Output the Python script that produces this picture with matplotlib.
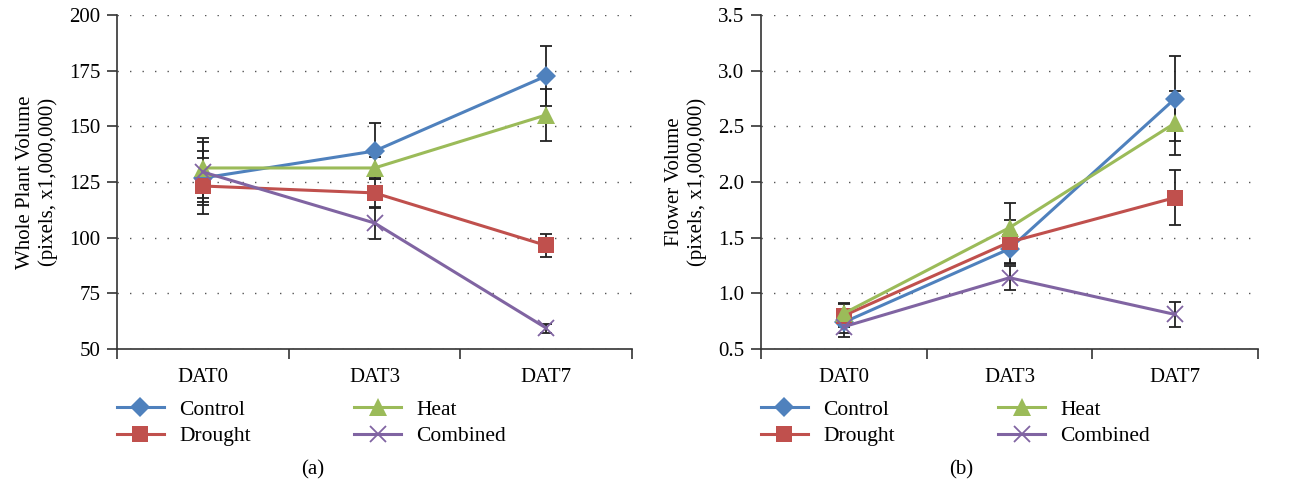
import matplotlib
matplotlib.use("Agg")
import matplotlib.pyplot as plt
import numpy as np

plt.rcParams['font.family'] = ['Liberation Serif', 'DejaVu Serif']

categories = ["DAT0", "DAT3", "DAT7"]
series = ["Control", "Drought", "Heat", "Combined"]

# Panel (a): Whole plant volume
a_control = [126.8, 138.9, 172.6]
a_drought = [123.2, 120.1, 96.5]
a_heat = [131.3, 131.3, 155.1]
a_combined = [129.5, 106.6, 59.4]
a_control_err = [12.0, 12.6, 13.6]
a_drought_err = [12.6, 6.6, 5.2]
a_heat_err = [13.5, 5.0, 11.5]
a_combined_err = [13.3, 7.0, 2.0]

# Panel (b): Flower volume
b_control = [0.74, 1.40, 2.75]
b_drought = [0.80, 1.46, 1.86]
b_heat = [0.82, 1.59, 2.53]
b_combined = [0.70, 1.14, 0.81]
b_control_err = [0.10, 0.13, 0.38]
b_drought_err = [0.10, 0.20, 0.25]
b_heat_err = [0.09, 0.22, 0.29]
b_combined_err = [0.09, 0.11, 0.11]

colors = {"Control": "#4F81BD", "Drought": "#C0504D", "Heat": "#9BBB59", "Combined": "#8064A2"}
markers = {"Control": "D", "Drought": "s", "Heat": "^", "Combined": "x"}
msizes = {"Control": 10.5, "Drought": 12, "Heat": 12.5, "Combined": 12}

fig = plt.figure(figsize=(12.9, 4.87), dpi=100)
W, H = 1290, 487
axa = fig.add_axes([117 / W, 1 - 349 / H, (632 - 117) / W, (349 - 15) / H])
axb = fig.add_axes([761 / W, 1 - 349 / H, (1258 - 761) / W, (349 - 15) / H])

def draw(ax, data, errs, ylim, yticks, yfmt, ylabel):
    x = np.arange(len(categories))
    for name in series:
        ax.errorbar(x, data[name], yerr=errs[name], fmt='none', ecolor='#222222',
                    elinewidth=1.3, capsize=4, capthick=1.3, zorder=2)
    handles = []
    for name in series:
        mk = markers[name]
        kw = dict(color=colors[name], marker=mk, markersize=msizes[name], linewidth=2.2, zorder=3)
        if mk == 'x':
            kw.update(markeredgewidth=1.3)
        else:
            kw.update(markeredgewidth=0)
        h, = ax.plot(x, data[name], label=name, **kw)
        handles.append(h)
    ax.set_xlim(-0.5, len(categories) - 0.5)
    ax.set_ylim(*ylim)
    ax.set_yticks(yticks)
    ax.set_yticklabels([yfmt.format(v) for v in yticks])
    ax.set_xticks(x)
    ax.set_xticklabels(categories)
    ax.set_xticks(np.arange(-0.5, len(categories), 1.0), minor=True)
    ax.tick_params(axis='x', which='major', length=0, pad=14, labelsize=15)
    ax.tick_params(axis='x', which='minor', length=7, width=1.2, color='#333333')
    ax.tick_params(axis='y', length=7, width=1.2, color='#333333', labelsize=15, pad=5)
    for s in ['top', 'right']:
        ax.spines[s].set_visible(False)
    for s in ['left', 'bottom']:
        ax.spines[s].set_color('#333333')
        ax.spines[s].set_linewidth(1.2)
    ax.yaxis.grid(True, linestyle=(0, (1, 8)), color='#555555', linewidth=1.0)
    ax.set_axisbelow(True)
    ax.set_ylabel(ylabel, fontsize=15, linespacing=1.2, labelpad=8)
    return handles

ha = draw(axa,
          {"Control": a_control, "Drought": a_drought, "Heat": a_heat, "Combined": a_combined},
          {"Control": a_control_err, "Drought": a_drought_err, "Heat": a_heat_err, "Combined": a_combined_err},
          (50, 200), [50, 75, 100, 125, 150, 175, 200], "{:d}",
          "Whole Plant Volume\n(pixels, x1,000,000)")
hb = draw(axb,
          {"Control": b_control, "Drought": b_drought, "Heat": b_heat, "Combined": b_combined},
          {"Control": b_control_err, "Drought": b_drought_err, "Heat": b_heat_err, "Combined": b_combined_err},
          (0.5, 3.5), [0.5, 1.0, 1.5, 2.0, 2.5, 3.0, 3.5], "{:.1f}",
          "Flower Volume\n(pixels, x1,000,000)")

for ax, handles, x0, lab, lx in [(axa, ha, 108, "(a)", 313), (axb, hb, 752, "(b)", 961)]:
    fig.legend(handles, [h.get_label() for h in handles], ncol=2,
               loc='upper left', bbox_to_anchor=(x0 / W, 1 - 391 / H),
               frameon=False, fontsize=15.5, handlelength=2.2, handletextpad=0.7,
               columnspacing=4.8, labelspacing=0.3, borderaxespad=0)
    fig.text(lx / W, 1 - 470 / H, lab, ha='center', va='center', fontsize=15)

fig.savefig("out.png", dpi=100)
